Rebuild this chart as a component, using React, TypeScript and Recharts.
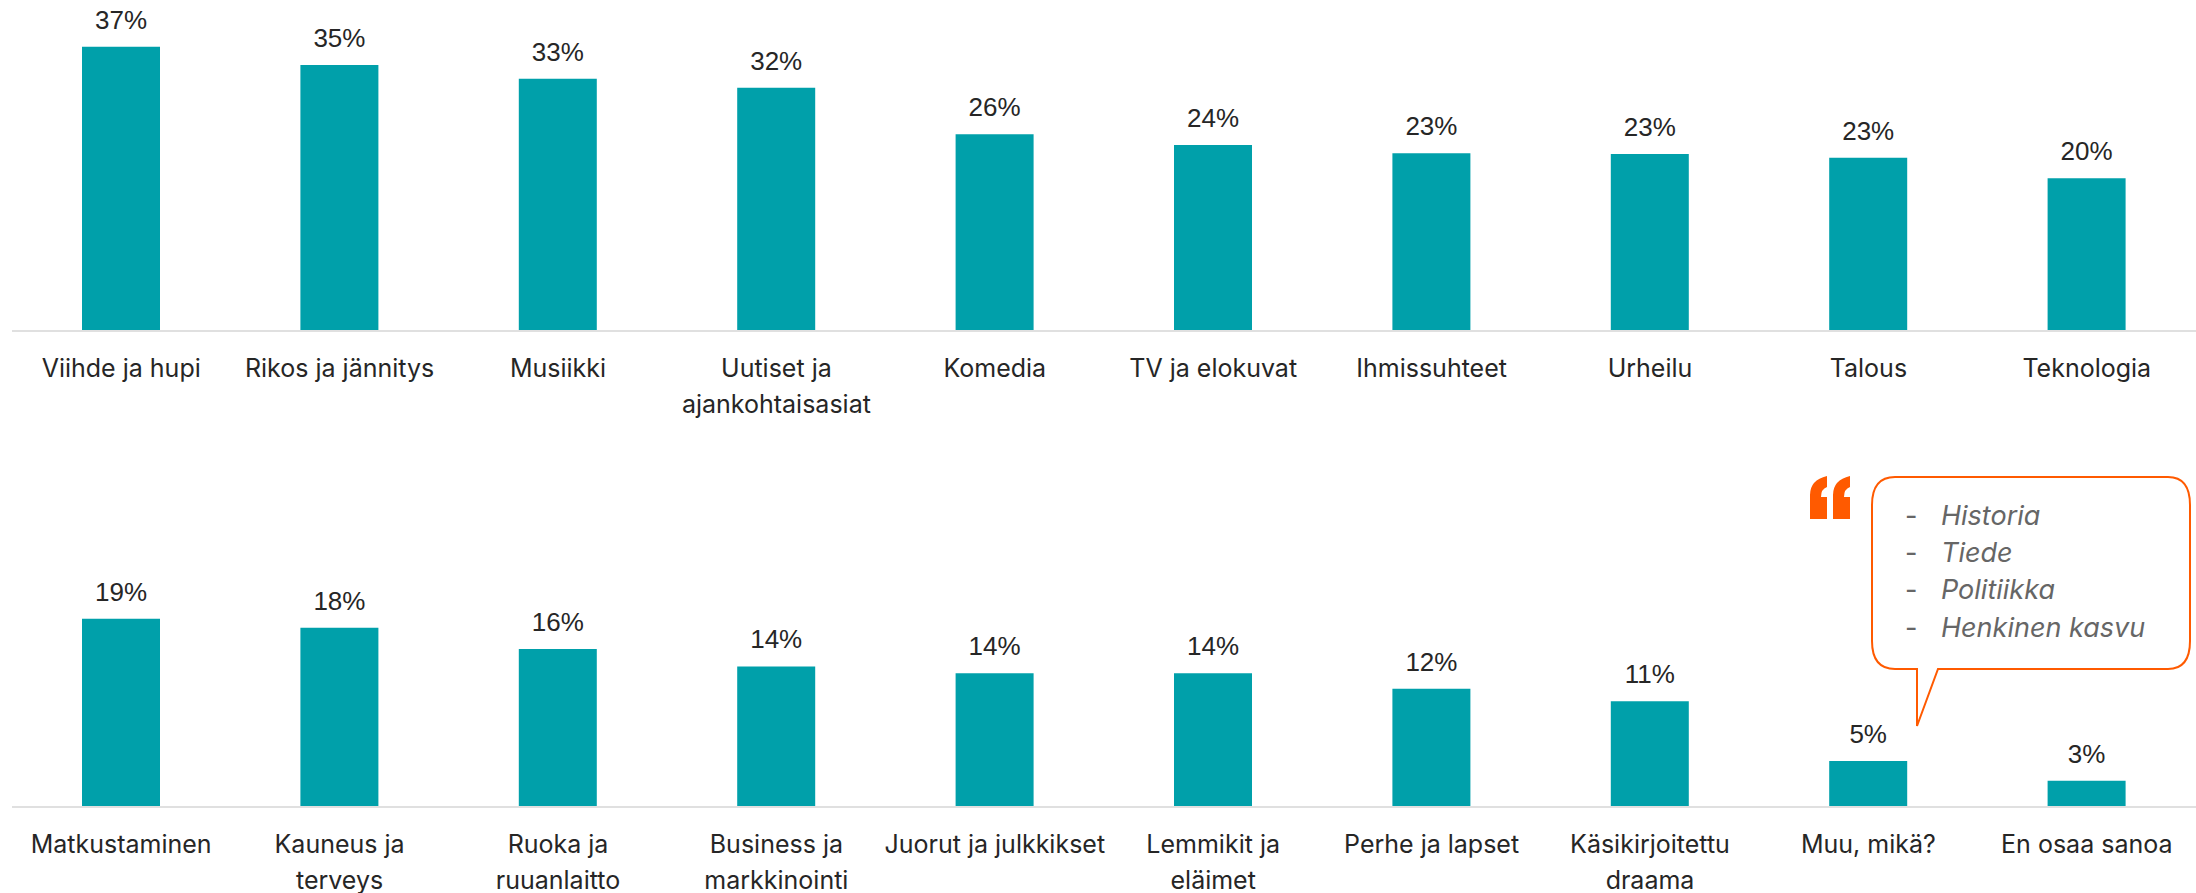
import { BarChart, Bar, XAxis, YAxis, LabelList } from "recharts";

// "\n" marks the forced line breaks in the category labels
const topCategories = [
  "Viihde ja hupi",
  "Rikos ja jännitys",
  "Musiikki",
  "Uutiset ja\najankohtaisasiat",
  "Komedia",
  "TV ja elokuvat",
  "Ihmissuhteet",
  "Urheilu",
  "Talous",
  "Teknologia",
];
const topValues = [37.4, 35.0, 33.2, 32.0, 25.9, 24.49, 23.4, 23.3, 22.8, 20.1];

const bottomCategories = [
  "Matkustaminen",
  "Kauneus ja\nterveys",
  "Ruoka ja\nruuanlaitto",
  "Business ja\nmarkkinointi",
  "Juorut ja julkkikset",
  "Lemmikit ja\neläimet",
  "Perhe ja lapset",
  "Käsikirjoitettu\ndraama",
  "Muu, mikä?",
  "En osaa sanoa",
];
const bottomValues = [19.4, 18.49, 16.3, 14.49, 13.8, 13.8, 12.2, 10.9, 4.75, 2.7];

const otherAnswers = ["Historia", "Tiede", "Politiikka", "Henkinen kasvu"];

const TEAL = "#00A0AA";
const ORANGE = "#FF5A00";
const LABEL_FONT = "Inter, sans-serif";

function CategoryTick({ x, y, payload }: any) {
  const lines = String(payload.value).split("\n");
  return (
    <text x={x} textAnchor="middle" fontFamily={LABEL_FONT} fontSize={25} fill="#262626">
      {lines.map((line, i) => (
        <tspan key={line} x={x} y={y + 38 + i * 36}>
          {line}
        </tspan>
      ))}
    </text>
  );
}

function Panel({
  categories,
  values,
  max,
  height,
  marginTop,
  axisHeight,
}: {
  categories: string[];
  values: number[];
  max: number;
  height: number;
  marginTop: number;
  axisHeight: number;
}) {
  const data = categories.map((name, i) => ({ name, value: values[i] }));
  return (
    <BarChart
      width={2196}
      height={height}
      data={data}
      margin={{ top: marginTop, right: 0, bottom: 0, left: 12 }}
    >
      <XAxis
        dataKey="name"
        interval={0}
        height={axisHeight}
        tickLine={false}
        axisLine={{ stroke: "#E0E0E0", strokeWidth: 2 }}
        tick={<CategoryTick />}
      />
      <YAxis hide domain={[0, max]} />
      <Bar dataKey="value" fill={TEAL} barSize={78} isAnimationActive={false}>
        <LabelList
          dataKey="value"
          position="top"
          offset={18}
          formatter={(v: any) => `${Math.round(v)}%`}
          style={{ fontFamily: "'Liberation Sans', Arial, sans-serif", fontSize: 26, fill: "#262626" }}
        />
      </Bar>
    </BarChart>
  );
}

// Speech bubble + quote mark next to "Muu, mikä?"
function Callout() {
  const baselines = [525, 562, 599, 637];
  return (
    <svg width={2196} height={893} style={{ position: "absolute", left: 0, top: 0, pointerEvents: "none" }}>
      <path
        d="M1895 477 H2168 Q2190 477 2190 505 V641 Q2190 669 2168 669 H1938 L1917 726 V669 H1895 Q1872 669 1872 641 V505 Q1872 477 1895 477 Z"
        fill="#fff"
        stroke={ORANGE}
        strokeWidth={2}
      />
      <path
        d="M1810 519 V495 Q1810 480 1827 476 V487 Q1821 489 1821 497 H1827 V519 Z M1833 519 V495 Q1833 480 1850 476 V487 Q1844 489 1844 497 H1850 V519 Z"
        fill={ORANGE}
      />
      {otherAnswers.map((t, i) => (
        <g key={t} fontFamily={LABEL_FONT} fontSize={27} fill="#666666">
          <text x={1905} y={baselines[i]}>-</text>
          <text x={1941} y={baselines[i]} fontStyle="italic">{t}</text>
        </g>
      ))}
    </svg>
  );
}

export default function App() {
  return (
    <div style={{ position: "absolute", left: 0, top: 0, width: 2196, height: 893, overflow: "hidden", background: "#fff" }}>
      <div style={{ position: "absolute", left: 0, top: 0 }}>
        <Panel categories={topCategories} values={topValues} max={40} height={430} marginTop={27} axisHeight={99} />
      </div>
      <div style={{ position: "absolute", left: 0, top: 470 }}>
        <Panel categories={bottomCategories} values={bottomValues} max={30} height={423} marginTop={46} axisHeight={86} />
      </div>
      <Callout />
    </div>
  );
}
